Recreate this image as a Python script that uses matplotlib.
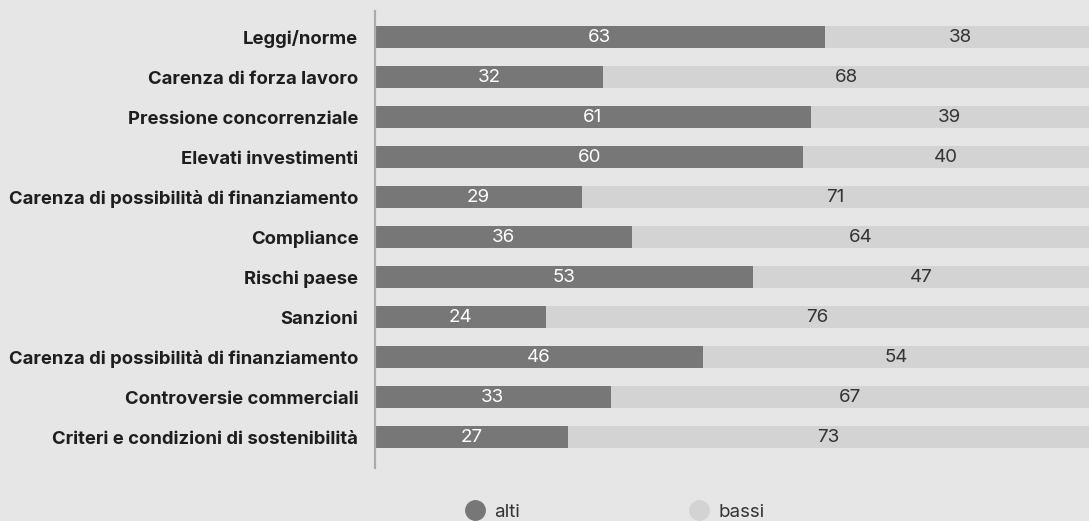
from matplotlib import pyplot as plt
from matplotlib.lines import Line2D
import numpy as np

# Data (top to bottom)
categories = [
    "Leggi/norme",
    "Carenza di forza lavoro",
    "Pressione concorrenziale",
    "Elevati investimenti",
    "Carenza di possibilità di finanziamento",
    "Compliance",
    "Rischi paese",
    "Sanzioni",
    "Carenza di possibilità di finanziamento",
    "Controversie commerciali",
    "Criteri e condizioni di sostenibilità",
]
alti  = [63, 32, 61, 60, 29, 36, 53, 24, 46, 33, 27]
bassi = [38, 68, 39, 40, 71, 64, 47, 76, 54, 67, 73]

bg_color    = "#e6e6e6"
alti_color  = "#777777"
bassi_color = "#d3d3d3"

plt.rcParams["font.family"] = ["Inter", "DejaVu Sans"]

fig = plt.figure(figsize=(10.89, 5.21), dpi=100, facecolor=bg_color)
ax = fig.add_axes([375/1089, 1 - 468/521, 1 - 375/1089, (468 - 11)/521])
ax.set_facecolor(bg_color)

y = np.arange(len(categories))
alti = np.array(alti)
bassi = np.array(bassi)

ax.barh(y, alti, height=0.55, color=alti_color, label="alti")
ax.barh(y, bassi, left=alti, height=0.55, color=bassi_color, label="bassi")

# Value labels centred in each segment
for i in range(len(categories)):
    ax.text(alti[i]/2, y[i], str(alti[i]), ha="center", va="center",
            color="white", fontsize=13.5)
    ax.text(alti[i] + bassi[i]/2, y[i], str(bassi[i]), ha="center", va="center",
            color="#333333", fontsize=13.5)

ax.set_xlim(0, 100)
ax.set_ylim(len(categories) - 1 + 0.775, -0.65)
ax.set_yticks(y)
ax.set_yticklabels(categories, fontsize=13.3, fontweight="bold", color="#1e1e1e")
ax.tick_params(axis="y", length=0, pad=12)
ax.set_xticks([])

for side in ["top", "right", "bottom"]:
    ax.spines[side].set_visible(False)
ax.spines["left"].set_color("#aaaaaa")
ax.spines["left"].set_linewidth(1.6)

# Legend with round markers
handles = [
    Line2D([], [], marker="o", linestyle="none", markersize=14,
           markerfacecolor=alti_color, markeredgecolor=alti_color),
    Line2D([], [], marker="o", linestyle="none", markersize=14,
           markerfacecolor=bassi_color, markeredgecolor=bassi_color),
]
fig.legend(handles, ["alti", "bassi"], loc="center", ncol=2,
           bbox_to_anchor=(614/1089, 1 - 512/521), frameon=False,
           fontsize=13.5, handlelength=1.2, handletextpad=0.4,
           columnspacing=9.0, labelcolor="#333333")

plt.savefig("out.png", dpi=100, facecolor=bg_color)
